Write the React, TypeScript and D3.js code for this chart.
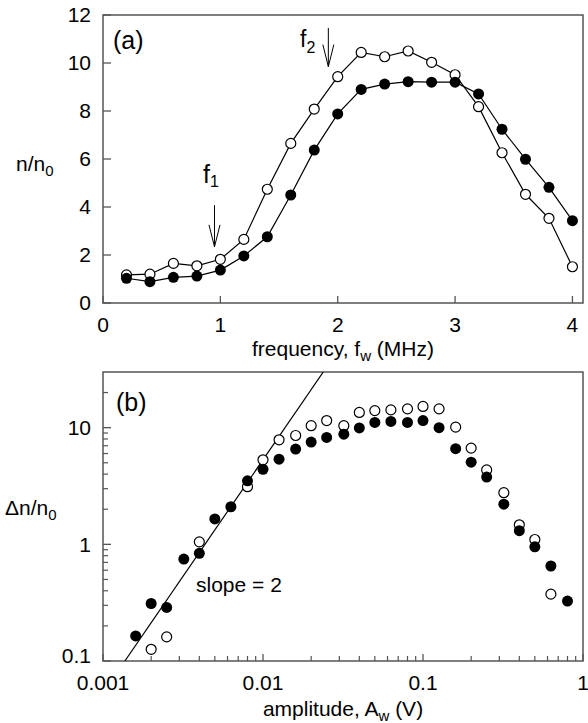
import React from "react";
import * as d3 from "d3";

// ---- Panel (a) data ----
const freqA = [0.2, 0.4, 0.6, 0.8, 1.0, 1.2, 1.4, 1.6, 1.8, 2.0, 2.2, 2.4, 2.6, 2.8, 3.0, 3.2, 3.4, 3.6, 3.8, 4.0];
const openA = [1.17, 1.2, 1.65, 1.55, 1.82, 2.65, 4.74, 6.65, 8.08, 9.43, 10.44, 10.26, 10.5, 10.03, 9.51, 8.18, 6.26, 4.53, 3.53, 1.51];
const filledA = [1.03, 0.89, 1.07, 1.12, 1.37, 1.96, 2.76, 4.5, 6.37, 7.88, 8.9, 9.12, 9.22, 9.2, 9.2, 8.71, 7.24, 5.99, 4.82, 3.43];
const xTicksA = [0, 1, 2, 3, 4];
const yTicksA = [0, 2, 4, 6, 8, 10, 12];
const arrowsA = [
  { f: 0.95, y0: 4.08, y1: 2.34 },
  { f: 1.92, y0: 11.46, y1: 9.85 },
];

// ---- Panel (b) data ----
const ampFilled = [0.0016, 0.002, 0.0025, 0.0032, 0.004, 0.005, 0.0063, 0.008, 0.01, 0.0126, 0.016, 0.02, 0.025, 0.032, 0.04, 0.05, 0.063, 0.08, 0.1, 0.126, 0.16, 0.2, 0.25, 0.32, 0.4, 0.5, 0.63, 0.8];
const dnFilled = [0.164, 0.311, 0.288, 0.748, 0.838, 1.65, 2.1, 3.5, 4.4, 5.37, 6.55, 7.52, 8.24, 8.8, 9.94, 11.1, 11.3, 11.1, 11.5, 10.0, 6.6, 5.06, 3.77, 2.21, 1.31, 0.953, 0.652, 0.326];
const ampOpen = [0.002, 0.0025, 0.004, 0.008, 0.01, 0.0126, 0.016, 0.02, 0.025, 0.032, 0.04, 0.05, 0.063, 0.08, 0.1, 0.126, 0.16, 0.2, 0.25, 0.32, 0.4, 0.5, 0.63];
const dnOpen = [0.126, 0.161, 1.05, 3.12, 5.3, 7.87, 8.57, 10.4, 11.5, 10.4, 13.5, 14.0, 14.2, 14.5, 15.2, 14.5, 10.1, 6.68, 4.34, 2.77, 1.47, 1.1, 0.374];
const slopeLine = [
  { x: 0.00137, y: 0.1 },
  { x: 0.0238, y: 30 },
];
const xMajorB = [0.001, 0.01, 0.1, 1];
const xMajorLabelsB = ["0.001", "0.01", "0.1", "1"];
const yMajorB = [0.1, 1, 10];
const yMajorLabelsB = ["0.1", "1", "10"];
const minorMult = [2, 3, 4, 5, 6, 7, 8, 9];

const FONT = "'Liberation Sans', Arial, Helvetica, sans-serif";
const FS = 21;
const SUB = 15;

export default function App() {
  const left = 103;
  const right = 583;

  // panel a scales
  const xA = d3.scaleLinear().domain([0, 4.09]).range([left, right]);
  const yA = d3.scaleLinear().domain([0, 12]).range([303, 15]);
  // panel b scales
  const xB = d3.scaleLog().domain([0.001, 1]).range([left, right]);
  const yB = d3.scaleLog().domain([0.1, 30]).range([661, 372]);

  const lineA = d3
    .line<[number, number]>()
    .x((d) => xA(d[0]))
    .y((d) => yA(d[1]));
  const openPts: [number, number][] = freqA.map((f, i) => [f, openA[i]]);
  const filledPts: [number, number][] = freqA.map((f, i) => [f, filledA[i]]);

  const xMinorB: number[] = [];
  [0.001, 0.01, 0.1].forEach((d) => minorMult.forEach((m) => xMinorB.push(d * m)));
  const yMinorB: number[] = [];
  [0.1, 1, 10].forEach((d) =>
    minorMult.forEach((m) => {
      const v = d * m;
      if (v < 30) yMinorB.push(v);
    })
  );

  const frame = "#555";
  const R = 5;

  return (
    <div style={{ position: "absolute", left: 0, top: 0 }}>
      <svg width={588} height={723} style={{ display: "block", background: "#fff" }} fontFamily={FONT}>
        <defs>
          <clipPath id="clipB">
            <rect x={left} y={372} width={right - left} height={661 - 372} />
          </clipPath>
        </defs>

        {/* ===== Panel (a) ===== */}
        <rect x={left} y={15} width={right - left} height={303 - 15} fill="none" stroke={frame} strokeWidth={1.5} />
        {yTicksA.map((t) => (
          <g key={"ya" + t}>
            <line x1={left} x2={left + 8} y1={yA(t)} y2={yA(t)} stroke={frame} strokeWidth={1.3} />
            <text x={91} y={yA(t)} dy="0.35em" textAnchor="end" fontSize={FS}>
              {t}
            </text>
          </g>
        ))}
        {xTicksA.map((t) => (
          <g key={"xa" + t}>
            <line x1={xA(t)} x2={xA(t)} y1={303} y2={296} stroke={frame} strokeWidth={1.3} />
            <text x={xA(t)} y={332} textAnchor="middle" fontSize={FS}>
              {t}
            </text>
          </g>
        ))}
        <text x={(left + right) / 2} y={356} textAnchor="middle" fontSize={FS}>
          frequency, f<tspan dy={5} fontSize={SUB}>w</tspan>
          <tspan dy={-5}> (MHz)</tspan>
        </text>
        <text x={16} y={171} fontSize={FS}>
          n/n<tspan dy={5} fontSize={SUB}>0</tspan>
        </text>
        <text x={113} y={49} fontSize={25}>
          (a)
        </text>

        <path d={lineA(openPts) || ""} fill="none" stroke="#000" strokeWidth={1.2} />
        <path d={lineA(filledPts) || ""} fill="none" stroke="#000" strokeWidth={1.2} />
        {openPts.map((p, i) => (
          <circle key={"oa" + i} cx={xA(p[0])} cy={yA(p[1])} r={R} fill="#fff" stroke="#000" strokeWidth={1.2} />
        ))}
        {filledPts.map((p, i) => (
          <circle key={"fa" + i} cx={xA(p[0])} cy={yA(p[1])} r={R + 0.5} fill="#000" />
        ))}

        {arrowsA.map((a, i) => {
          const x = xA(a.f);
          const y0 = yA(a.y0);
          const y1 = yA(a.y1);
          return (
            <g key={"ar" + i} stroke="#000" strokeWidth={1} fill="none">
              <line x1={x} x2={x} y1={y0} y2={y1} />
              <polyline points={`${x - 5.5},${y1 - 22} ${x},${y1} ${x + 5.5},${y1 - 22}`} />
            </g>
          );
        })}
        <text x={203} y={183} fontSize={25}>
          f<tspan dy={4} fontSize={16}>1</tspan>
        </text>
        <text x={300} y={47} fontSize={23}>
          f<tspan dy={6} fontSize={16}>2</tspan>
        </text>

        {/* ===== Panel (b) ===== */}
        <rect x={left} y={372} width={right - left} height={661 - 372} fill="none" stroke={frame} strokeWidth={1.5} />
        {yMajorB.map((t, i) => (
          <g key={"yb" + t}>
            <line x1={left} x2={left + 8} y1={yB(t)} y2={yB(t)} stroke={frame} strokeWidth={1.3} />
            <text x={91} y={yB(t)} dy={i === 0 ? "0.1em" : "0.35em"} textAnchor="end" fontSize={FS}>
              {yMajorLabelsB[i]}
            </text>
          </g>
        ))}
        {yMinorB.map((t) => (
          <line key={"ybm" + t} x1={left} x2={left + 5} y1={yB(t)} y2={yB(t)} stroke={frame} strokeWidth={1.2} />
        ))}
        {xMajorB.map((t, i) => (
          <g key={"xb" + t}>
            <line x1={xB(t)} x2={xB(t)} y1={661} y2={654} stroke={frame} strokeWidth={1.3} />
            <text x={xB(t)} y={690} textAnchor="middle" fontSize={FS}>
              {xMajorLabelsB[i]}
            </text>
          </g>
        ))}
        {xMinorB.map((t) => (
          <line key={"xbm" + t} x1={xB(t)} x2={xB(t)} y1={661} y2={656} stroke={frame} strokeWidth={1.2} />
        ))}
        <text x={(left + right) / 2} y={716} textAnchor="middle" fontSize={FS}>
          amplitude, A<tspan dy={5} fontSize={SUB}>w</tspan>
          <tspan dy={-5}> (V)</tspan>
        </text>
        <text x={5} y={515} fontSize={FS}>
          Δn/n<tspan dy={5} fontSize={SUB}>0</tspan>
        </text>
        <text x={116} y={411} fontSize={25}>
          (b)
        </text>
        <text x={196} y={592} fontSize={FS}>
          slope = 2
        </text>

        <g clipPath="url(#clipB)">
          <line
            x1={xB(slopeLine[0].x)}
            y1={yB(slopeLine[0].y)}
            x2={xB(slopeLine[1].x)}
            y2={yB(slopeLine[1].y)}
            stroke="#000"
            strokeWidth={1.2}
          />
        </g>
        {ampOpen.map((a, i) => (
          <circle key={"ob" + i} cx={xB(a)} cy={yB(dnOpen[i])} r={R} fill="#fff" stroke="#000" strokeWidth={1.2} />
        ))}
        {ampFilled.map((a, i) => (
          <circle key={"fb" + i} cx={xB(a)} cy={yB(dnFilled[i])} r={R + 0.5} fill="#000" />
        ))}
      </svg>
    </div>
  );
}
